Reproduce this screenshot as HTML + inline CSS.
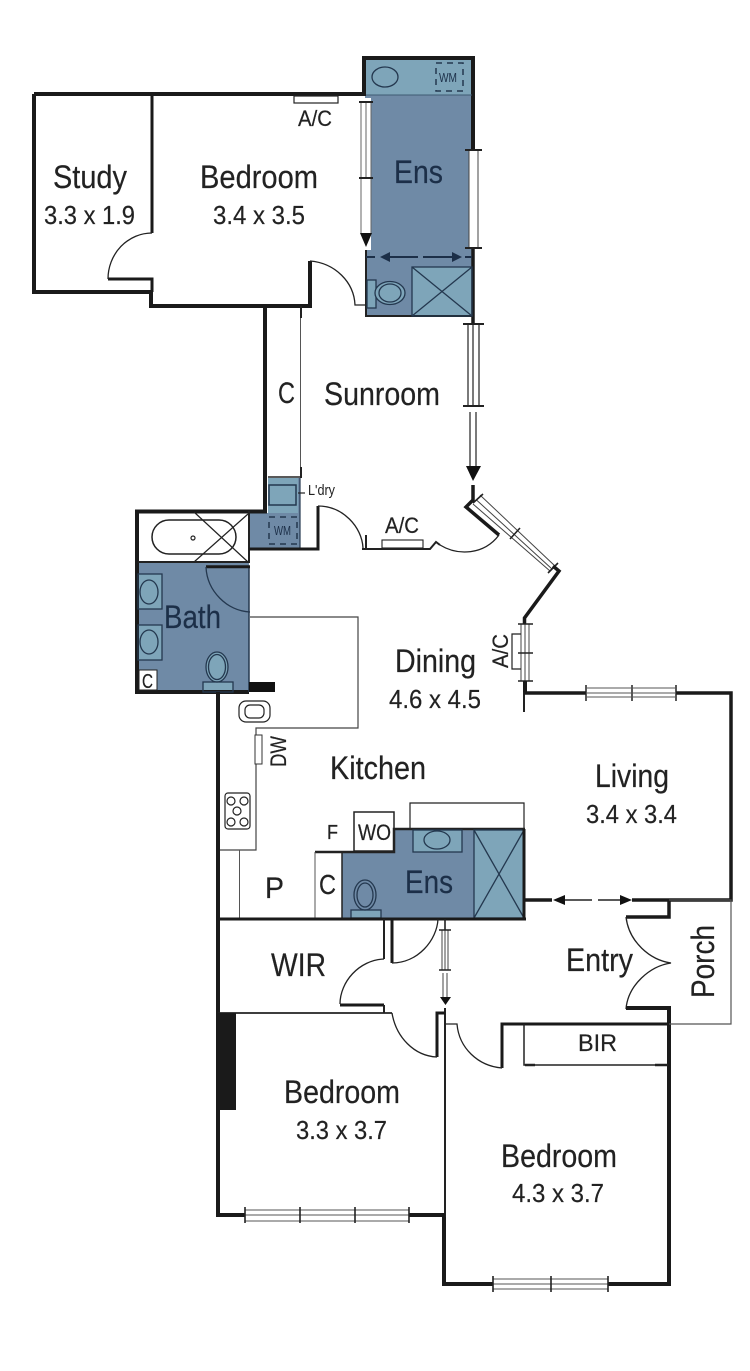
<!DOCTYPE html>
<html><head><meta charset="utf-8"><style>
html,body{margin:0;padding:0;background:#fff}
svg{display:block}
text{font-family:"Liberation Sans",sans-serif;fill:#222;stroke:#222;stroke-width:.2}
.n{font-size:32px}.d{font-size:26px}.s{font-size:22px}.w{font-size:13px;fill:#1c2f48;stroke:none}
.e{fill:#1c2f48;stroke:#1c2f48}
.t{fill:none;stroke:#222;stroke-width:1.2}
.m{fill:none;stroke:#222;stroke-width:2}
.k{fill:none;stroke:#1a1a1a;stroke-width:4;stroke-linejoin:miter}
.g{fill:none;stroke:#555;stroke-width:1}
.a{fill:none;stroke:#222;stroke-width:1.3}
.f{fill:none;stroke:#24384f;stroke-width:1.3}
.dash{fill:none;stroke:#24384f;stroke-width:1.5;stroke-dasharray:6 5}
</style></head><body>
<svg width="750" height="1371" viewBox="0 0 750 1371" xmlns="http://www.w3.org/2000/svg">
<rect width="750" height="1371" fill="#fff"/>

<!-- blue fills -->
<rect x="365" y="58" width="108" height="258" fill="#6f8aa6"/>
<rect x="366" y="60" width="106" height="35" fill="#7ea5b9"/>
<rect x="412" y="267" width="60" height="49" fill="#7ea5b9"/>
<rect x="268" y="478" width="30" height="35" fill="#7ea5b9"/>
<rect x="250" y="513" width="50" height="36" fill="#6f8aa6"/>
<rect x="298" y="478" width="2" height="35" fill="#6f8aa6"/>
<rect x="138" y="563" width="111" height="130" fill="#6f8aa6"/>
<rect x="138" y="574" width="24" height="35" fill="#7ea5b9"/>
<rect x="138" y="625" width="24" height="35" fill="#7ea5b9"/>
<path d="M342 851H394V829H525V918H342Z" fill="#6f8aa6"/>
<rect x="474" y="830" width="50" height="88" fill="#7ea5b9"/>
<rect x="413" y="830" width="49" height="22" fill="#7ea5b9"/>
<rect x="351" y="910" width="30" height="8" fill="#7ea5b9"/>
<rect x="203" y="682" width="30" height="10" fill="#7ea5b9"/>

<!-- upper ensuite walls -->
<path class="k" d="M364 96V58H473V150"/>
<path class="k" d="M473 248V324" style="stroke-width:3.5"/>
<path class="k" d="M34 94H366"/>
<path class="k" d="M34 94V292H151V306H310V261"/>
<path class="k" d="M152 94V233" style="stroke-width:3"/>
<path class="k" d="M108 279H152V292" style="stroke-width:3"/>
<path class="a" d="M152 233A44 46 0 0 0 108 279"/>
<path class="a" d="M310 261C335 263 354 282 355 305H366"/>
<path class="m" d="M366 250V316H473"/>
<line x1="366" y1="95" x2="472" y2="95" stroke="#3f5a72" stroke-width="1"/>

<!-- upper ens window + slider -->
<rect x="361" y="98" width="10" height="152" fill="#fff"/>
<path class="g" d="M361 102V233M366 102V178M371 102V233" style="stroke:#666"/>
<path class="m" d="M359 102H373M359 178H373"/>
<path d="M360 233H372L366 247Z" fill="#111"/>
<rect x="469" y="150" width="9" height="98" fill="#fff"/>
<path class="g" d="M469 150V248M478 150V248" style="stroke:#444"/>
<path class="m" d="M465 150H482M465 248H482"/>
<path class="m" d="M366 257H375M390 257H418M423 257H452M465 257H472" style="stroke:#1c2f48;stroke-width:2"/>
<path d="M380 257l10-5v10ZM462 257l-10-5v10Z" fill="#1c2f48"/>
<rect x="412" y="267" width="60" height="49" class="f"/>
<path class="f" d="M412 267L472 316M472 267L412 316"/>
<rect x="367" y="280" width="9" height="28" fill="#7ea5b9" stroke="#24384f" stroke-width="1.3"/>
<ellipse cx="390" cy="293" rx="15" ry="11.5" fill="#7ea5b9" stroke="#24384f" stroke-width="1.3"/>
<ellipse cx="390" cy="293" rx="11" ry="9" class="f"/>
<ellipse cx="385" cy="77" rx="13" ry="10" class="f"/>
<rect x="436" y="63" width="27" height="28" class="dash"/>

<!-- A/C top -->
<rect x="294" y="96" width="44" height="7" fill="#fff" stroke="#222" stroke-width="1.2"/>

<!-- sunroom -->
<path class="k" d="M265 306V513"/>
<path class="g" d="M300.5 306V478"/>
<path class="m" d="M301 306V318M301 467V478"/>
<path class="m" d="M268 477H300" style="stroke-width:1.5"/>
<path class="t" d="M468 324V406M473 324V406M479 324V406"/>
<path class="m" d="M463 324H484M463 406H484"/>
<path class="t" d="M470 412V467M476 412V467"/>
<path d="M466 466H481L473 481Z" fill="#111"/>
<path class="k" d="M473 485V500L466 507L499 535" style="stroke-width:3.5"/>
<!-- diagonal window -->
<path class="g" d="M473 504L550 571M476.5 500L552 569M480 495L555 566" style="stroke:#444"/>
<path class="m" d="M473 503L483 494M510 539L520 528M548 573L558 563" style="stroke-width:1.6"/>
<path class="k" d="M553 566L559 571L524.5 618V624" style="stroke-width:3.5"/>
<!-- right low window -->
<path class="g" d="M521 624V681M525 624V681M529 624V681" style="stroke:#444"/>
<path class="m" d="M518 624H533M518 681H533M518 653H533" style="stroke-width:1.4"/>
<path class="t" d="M521 634H512V669H521"/>
<path class="k" d="M525 681V693"/>
<path class="m" d="M524 692V712"/>

<!-- bath / laundry -->
<path class="k" d="M267 511.5H137V692H249"/>
<path class="m" d="M249 511V563M138 562H250"/>
<path class="f" d="M249 566V692" style="stroke-width:1.5"/>
<rect x="152" y="520" width="84" height="34" rx="17" class="t" style="stroke-width:1.5"/>
<circle cx="193" cy="538" r="2" class="t"/>
<path class="t" d="M194 512L248 562M248 514L194 562"/>
<path class="k" d="M206 566.7H250" style="stroke-width:3"/>
<path class="f" d="M206 567C207 591 227 611 250 612"/>
<rect x="138" y="574" width="24" height="35" class="f"/>
<rect x="138" y="625" width="24" height="35" class="f"/>
<ellipse cx="149" cy="592" rx="9" ry="12" class="f"/>
<ellipse cx="149" cy="642" rx="9" ry="12" class="f"/>
<ellipse cx="217" cy="667" rx="11" ry="15" fill="#7ea5b9" stroke="#24384f" stroke-width="1.3"/>
<ellipse cx="217" cy="667" rx="8.5" ry="12.5" class="f"/>
<rect x="203" y="682" width="30" height="10" class="f"/>
<rect x="139" y="670" width="18" height="20" fill="#fff" stroke="#222" stroke-width="1"/>
<rect x="249" y="682" width="26" height="10" fill="#111"/>
<rect x="269" y="485" width="27" height="20" fill="#7ea5b9" stroke="#24384f" stroke-width="1.5"/>
<rect x="269" y="517" width="28" height="27" class="dash"/>
<path class="f" d="M300 478V549" style="stroke-width:1.2"/>
<path class="t" d="M298 493H305"/>

<!-- dining wall -->
<path class="k" d="M249 549H318V506" style="stroke-width:3"/>
<path class="a" d="M318 506C343 506 362 527 363 548"/>
<path class="m" d="M362 549H430L436 542L440 545"/>
<path class="m" d="M366 535V549"/>
<rect x="382" y="540" width="41" height="8" fill="#fff" stroke="#222" stroke-width="1.1"/>
<path class="a" d="M440 545C458 556 484 555 499 535"/>

<!-- kitchen -->
<path class="g" d="M250 617H358V728H256V850H219" style="stroke:#444;stroke-width:1.2"/>
<path class="k" d="M218 692V1217"/>
<rect x="239" y="701" width="31" height="21" rx="7" class="t"/>
<rect x="245" y="705" width="19" height="13" rx="5" class="t"/>
<rect x="255" y="735" width="7" height="29" fill="#fff" stroke="#333" stroke-width="1"/>
<rect x="225" y="793" width="25" height="36" rx="3" class="t"/>
<circle cx="231" cy="801" r="4" class="t"/><circle cx="244" cy="801" r="4" class="t"/>
<circle cx="237" cy="811" r="4" class="t"/>
<circle cx="231" cy="822" r="4" class="t"/><circle cx="244" cy="822" r="4" class="t"/>
<path class="g" d="M239.5 850V918"/>
<rect x="354" y="812" width="40" height="39" fill="#fff" stroke="#222" stroke-width="1.5"/>
<path class="m" d="M315 852H394V829H525" style="stroke-width:2.5"/>
<path class="g" d="M315 852V918"/>
<path class="t" d="M410 829V803H524V829"/>
<path class="m" d="M342 851V918" style="stroke-width:1.5"/>
<rect x="413" y="830" width="49" height="22" class="f"/>
<ellipse cx="437" cy="840" rx="13" ry="9" class="f"/>
<rect x="474" y="830" width="50" height="88" class="f"/>
<path class="f" d="M474 830L524 918M524 830L474 918"/>
<ellipse cx="365" cy="895" rx="11" ry="15" class="f"/>
<ellipse cx="365" cy="895" rx="8" ry="12" class="f"/>
<rect x="351" y="910" width="30" height="8" class="f"/>
<path class="k" d="M218 919H526" style="stroke-width:3"/>
<path class="k" d="M524 829V918" style="stroke-width:3"/>

<!-- living -->
<path class="k" d="M524 693H586M676 693H731V900H632M552 900H525" style="stroke-width:3.5"/>
<path class="t" d="M586 685V701M632 685V701M676 685V701" style="stroke-width:1.5"/>
<path class="g" d="M586 688H676M586 693H676M586 697H676" style="stroke:#555"/>
<path d="M553 900l12-5v10ZM632 900l-12-5v10Z" fill="#111"/>
<path class="m" d="M565 900H592M598 900H620" style="stroke-width:1.5"/>

<!-- entry -->
<path class="k" d="M669 900V917H626" style="stroke-width:3.5"/>
<path class="a" d="M626 917C629 942 650 960 671 963C650 966 628 985 626 1009"/>
<path class="k" d="M626 1008H669V1284H608"/>
<path class="k" d="M493 1284H444V1217"/>
<path class="t" d="M669 900H731V1024H669" style="stroke:#555"/>
<path class="k" d="M502 1068V1024H669" style="stroke-width:3"/>
<path class="a" d="M502 1068C478 1066 459 1048 457 1024H445"/>
<path class="m" d="M524 1024V1065H668" style="stroke-width:1.5"/>
<path class="m" d="M525 1065H535M655 1065H668" style="stroke-width:2.5"/>

<!-- sliding door + wir doors -->
<path class="k" d="M392 919V963" style="stroke-width:3"/>
<path class="m" d="M384 919V959"/>
<path class="a" d="M392 963C418 963 437 940 438 919"/>
<path class="a" d="M384 959C359 960 340 982 340 1004"/>
<path class="k" d="M340 1005H384" style="stroke-width:3"/>
<path class="m" d="M384 1005V1013"/>
<path class="g" d="M442 930V970M445 930V970M448 930V970M443 973V998M447 973V998" style="stroke:#444"/>
<path class="m" d="M445 919V930M439 930H451M439 970H451" style="stroke-width:1.6"/>
<path d="M440 997H451L445.5 1005Z" fill="#111"/>
<path class="m" d="M445 1008V1217"/>
<path class="k" d="M437 1057V1013H445" style="stroke-width:3"/>
<path class="a" d="M392 1013C396 1037 414 1056 437 1057"/>
<path class="m" d="M218 1013H392" style="stroke-width:1.8"/>
<rect x="217" y="1013" width="19" height="97" fill="#1a1a1a"/>
<path class="k" d="M218 1108V1215H245M409 1215H445"/>
<path class="g" d="M245 1210H409M245 1215H409M245 1221H409" style="stroke:#555"/>
<path class="t" d="M245 1207V1223M300 1207V1223M355 1207V1223M409 1207V1223" style="stroke-width:1.6"/>
<path class="g" d="M493 1279H608M493 1284H608M493 1289H608" style="stroke:#555"/>
<path class="t" d="M493 1276V1292M551 1276V1292M608 1276V1292" style="stroke-width:1.6"/>

<!-- labels -->
<text class="n" x="53" y="188" textLength="74" lengthAdjust="spacingAndGlyphs">Study</text>
<text class="d" x="44" y="224" textLength="91" lengthAdjust="spacingAndGlyphs">3.3 x 1.9</text>
<text class="n" x="200" y="188" textLength="118" lengthAdjust="spacingAndGlyphs">Bedroom</text>
<text class="d" x="213" y="224" textLength="92" lengthAdjust="spacingAndGlyphs">3.4 x 3.5</text>
<text class="s" x="298" y="126" textLength="34" lengthAdjust="spacingAndGlyphs">A/C</text>
<text class="n e" x="394" y="183" textLength="49" lengthAdjust="spacingAndGlyphs">Ens</text>
<text class="w" x="439" y="82" textLength="18" lengthAdjust="spacingAndGlyphs">WM</text>
<text class="n" x="324" y="405" textLength="116" lengthAdjust="spacingAndGlyphs">Sunroom</text>
<text class="n" x="278" y="403" textLength="17" lengthAdjust="spacingAndGlyphs" style="font-size:30px">C</text>
<text x="308" y="495" textLength="27" lengthAdjust="spacingAndGlyphs" style="font-size:15px;stroke:none">L'dry</text>
<text class="s" x="385" y="533" textLength="34" lengthAdjust="spacingAndGlyphs">A/C</text>
<text class="w" x="274" y="535" textLength="17" lengthAdjust="spacingAndGlyphs">WM</text>
<text class="n e" x="164" y="628" textLength="57" lengthAdjust="spacingAndGlyphs">Bath</text>
<text x="142" y="688" textLength="11" lengthAdjust="spacingAndGlyphs" style="font-size:20px">C</text>
<text class="n" x="395" y="672" textLength="81" lengthAdjust="spacingAndGlyphs">Dining</text>
<text class="d" x="389" y="708" textLength="92" lengthAdjust="spacingAndGlyphs">4.6 x 4.5</text>
<text class="s" transform="translate(508 668) rotate(-90)" textLength="34" lengthAdjust="spacingAndGlyphs">A/C</text>
<text class="n" x="330" y="779" textLength="96" lengthAdjust="spacingAndGlyphs">Kitchen</text>
<text class="s" transform="translate(286 767) rotate(-90)" textLength="31" lengthAdjust="spacingAndGlyphs">DW</text>
<text class="n" x="595" y="787" textLength="74" lengthAdjust="spacingAndGlyphs">Living</text>
<text class="d" x="586" y="823" textLength="91" lengthAdjust="spacingAndGlyphs">3.4 x 3.4</text>
<text x="327" y="839" textLength="11" lengthAdjust="spacingAndGlyphs" style="font-size:20px">F</text>
<text class="s" x="358" y="840" textLength="33" lengthAdjust="spacingAndGlyphs">WO</text>
<text class="n" x="265" y="898" textLength="19" lengthAdjust="spacingAndGlyphs" style="font-size:30px">P</text>
<text class="n" x="319" y="894" textLength="17" lengthAdjust="spacingAndGlyphs" style="font-size:28px">C</text>
<text class="n e" x="405" y="893" textLength="48" lengthAdjust="spacingAndGlyphs">Ens</text>
<text class="n" x="271" y="976" textLength="55" lengthAdjust="spacingAndGlyphs">WIR</text>
<text class="n" x="566" y="971" textLength="67" lengthAdjust="spacingAndGlyphs">Entry</text>
<text class="n" transform="translate(714 998) rotate(-90)" textLength="73" lengthAdjust="spacingAndGlyphs">Porch</text>
<text class="s" x="578" y="1051" textLength="39" lengthAdjust="spacingAndGlyphs" style="font-size:24px">BIR</text>
<text class="n" x="284" y="1103" textLength="116" lengthAdjust="spacingAndGlyphs">Bedroom</text>
<text class="d" x="296" y="1139" textLength="91" lengthAdjust="spacingAndGlyphs">3.3 x 3.7</text>
<text class="n" x="501" y="1167" textLength="116" lengthAdjust="spacingAndGlyphs">Bedroom</text>
<text class="d" x="512" y="1202" textLength="92" lengthAdjust="spacingAndGlyphs">4.3 x 3.7</text>
</svg>
</body></html>
